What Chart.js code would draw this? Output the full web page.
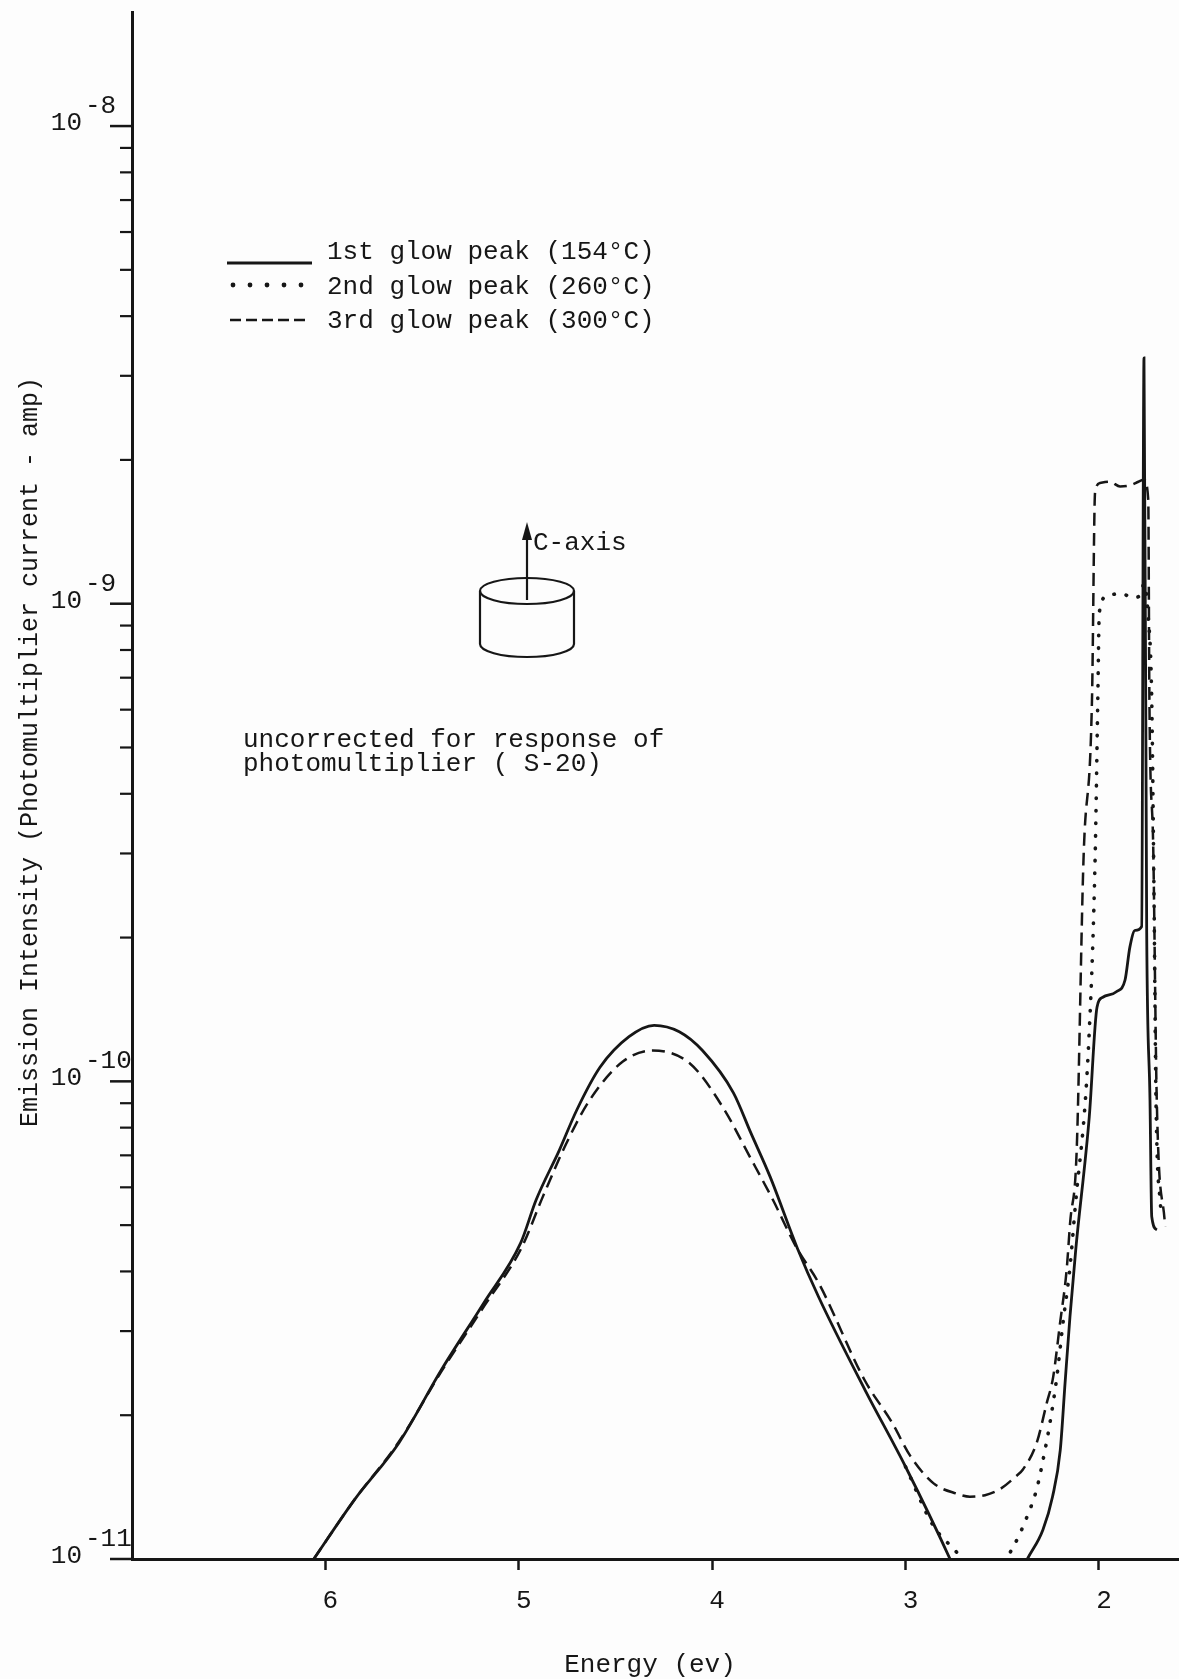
<!DOCTYPE html>
<html lang="en">
<head>
    <meta charset="UTF-8">
    <title>Emission spectra of the glow peaks</title>
    <script src="https://cdn.jsdelivr.net/npm/chart.js"></script>
    <style>
        html, body { margin: 0; padding: 0; background: #fdfdfd; }
        #wrap { width: 1179px; height: 1679px; }
    </style>
</head>
<body>
    <div id="wrap"><canvas id="spectrum" width="1179" height="1679"></canvas></div>

    <script>
        // values: energy in ev, photomultiplier current in amp
        const peak1Energy = [6.06, 5.85, 5.62, 5.40, 5.18, 4.99, 4.91, 4.79, 4.70, 4.58, 4.43, 4.30, 4.17, 4.05, 3.89,
            3.80, 3.70, 3.56, 3.45, 3.21, 3.00, 2.77, 2.70, 2.57, 2.45, 2.37, 2.29, 2.24, 2.20, 2.175,
            2.15, 2.12, 2.05, 2.01, 1.98, 1.91, 1.865, 1.84, 1.813, 1.779, 1.767, 1.753, 1.736, 1.727, 1.70];
        const peak1Current = [1.0e-11, 1.33e-11, 1.75e-11, 2.49e-11, 3.44e-11, 4.59e-11, 5.65e-11, 7.18e-11, 8.71e-11, 1.07e-10,
            1.24e-10, 1.31e-10, 1.27e-10, 1.16e-10, 9.46e-11, 7.80e-11, 6.31e-11, 4.48e-11, 3.54e-11, 2.26e-11,
            1.56e-11, 1.0e-11, 8.6e-12, 7.5e-12, 8.6e-12, 1.0e-11, 1.15e-11, 1.35e-11, 1.69e-11, 2.34e-11,
            3.21e-11, 4.44e-11, 8.43e-11, 1.43e-10, 1.50e-10, 1.54e-10, 1.63e-10, 1.91e-10, 2.07e-10, 2.11e-10,
            3.27e-9, 2.05e-10, 9.14e-11, 5.21e-11, 4.89e-11];

        const peak2Energy = [3.00, 2.86, 2.71, 2.65, 2.59, 2.53, 2.477, 2.418, 2.374, 2.322,
            2.279, 2.253, 2.218, 2.186, 2.150, 2.124, 2.055, 2.020, 2.006, 1.998,
            1.955, 1.887, 1.822, 1.787, 1.767, 1.745, 1.727, 1.715, 1.705, 1.679];
        const peak2Current = [1.56e-11, 1.18e-11, 1.0e-11, 9.0e-12, 8.5e-12, 9.0e-12, 1.0e-11, 1.11e-11, 1.22e-11, 1.40e-11,
            1.69e-11, 1.93e-11, 2.40e-11, 3.12e-11, 4.08e-11, 5.38e-11, 1.16e-10, 2.90e-10, 6.28e-10, 9.6e-10,
            1.04e-9, 1.05e-9, 1.03e-9, 1.04e-9, 1.1e-9, 9.4e-10, 6.28e-10, 2.40e-10, 9.14e-11, 5.25e-11];

        const peak3Energy = [6.06, 5.85, 5.62, 5.40, 5.18, 4.986, 4.876, 4.753, 4.633, 4.462,
            4.307, 4.115, 3.945, 3.805, 3.686, 3.563, 3.449, 3.212, 3.070, 2.974,
            2.855, 2.736, 2.667, 2.589, 2.512, 2.429, 2.393, 2.322, 2.270, 2.237,
            2.201, 2.167, 2.149, 2.115, 2.080, 2.036, 2.020, 1.994, 1.943, 1.891,
            1.839, 1.796, 1.767, 1.745, 1.739, 1.719, 1.701, 1.658];
        const peak3Current = [1.0e-11, 1.33e-11, 1.76e-11, 2.47e-11, 3.38e-11, 4.48e-11, 5.73e-11, 7.43e-11, 9.14e-11, 1.10e-10,
            1.16e-10, 1.09e-10, 8.83e-11, 6.95e-11, 5.65e-11, 4.48e-11, 3.78e-11, 2.37e-11, 1.93e-11, 1.64e-11,
            1.44e-11, 1.37e-11, 1.35e-11, 1.36e-11, 1.40e-11, 1.49e-11, 1.54e-11, 1.75e-11, 2.12e-11, 2.40e-11,
            3.12e-11, 4.03e-11, 5.06e-11, 7.18e-11, 2.90e-10, 6.28e-10, 1.71e-9, 1.79e-9, 1.80e-9, 1.76e-9,
            1.77e-9, 1.80e-9, 1.82e-9, 1.65e-9, 6.28e-10, 3.05e-10, 9.14e-11, 4.97e-11];

        const seriesLabels = ['1st glow peak (154°C)', '2nd glow peak (260°C)', '3rd glow peak (300°C)'];
        const xTickValues = [6, 5, 4, 3, 2];
        const yDecades = [-11, -10, -9, -8];
        const yMinorSteps = [2, 3, 4, 5, 6, 7, 8, 9];
        const noteLines = ['uncorrected for response of', 'photomultiplier ( S-20)'];

        const FONT = '"Liberation Mono", "DejaVu Sans Mono", monospace';
        const INK = '#161616';

        function toPoints(xs, ys) {
            return xs.map((e, i) => ({ x: e, y: ys[i] }));
        }

        function stroke(c, x1, y1, x2, y2, w) {
            c.lineWidth = w;
            c.beginPath();
            c.moveTo(x1, y1);
            c.lineTo(x2, y2);
            c.stroke();
        }

        // axis labels, legend and the sketch of the crystal
        const paperPlugin = {
            id: 'paper',
            beforeDraw(chart) {
                const c = chart.ctx;
                c.save();
                c.fillStyle = '#fdfdfd';
                c.fillRect(0, 0, chart.width, chart.height);
                c.restore();
            },
            afterDraw(chart) {
                const c = chart.ctx;
                const xs = chart.scales.x, ys = chart.scales.y;
                const left = chart.chartArea.left;
                c.save();
                c.strokeStyle = INK;
                c.fillStyle = INK;
                c.textBaseline = 'alphabetic';

                // log ticks on the y axis
                yDecades.forEach(e => {
                    const py = ys.getPixelForValue(Math.pow(10, e));
                    stroke(c, left - 22, py, left, py, 2.5);
                    c.font = '26px ' + FONT;
                    c.textAlign = 'right';
                    c.fillText('10', left - 50, py + 4);
                    c.textAlign = 'left';
                    c.fillText(String(e), left - 47, py - 13);
                    yMinorSteps.forEach(m => {
                        const v = m * Math.pow(10, e);
                        if (v > ys.max) return;
                        const pm = ys.getPixelForValue(v);
                        stroke(c, left - 12, pm, left, pm, 2.2);
                    });
                });

                // energy tick labels
                c.font = '26px ' + FONT;
                c.textAlign = 'center';
                xTickValues.forEach(v => {
                    c.fillText(String(v), xs.getPixelForValue(v) + 5, xs.top + 49);
                });
                c.fillText('Energy (ev)', 650, xs.top + 113);

                // y title
                c.save();
                c.translate(30, 752);
                c.rotate(-Math.PI / 2);
                c.font = '25px ' + FONT;
                c.textBaseline = 'middle';
                c.fillText('Emission Intensity (Photomultiplier current - amp)', 0, 0);
                c.restore();

                // legend
                c.font = '26px ' + FONT;
                c.textAlign = 'left';
                const rows = [259, 294, 328];
                seriesLabels.forEach((t, i) => c.fillText(t, 327, rows[i]));
                c.lineCap = 'butt';
                stroke(c, 227, rows[0] + 4, 312, rows[0] + 4, 2.8);
                for (let k = 0; k < 5; k++) {
                    c.beginPath();
                    c.arc(233 + k * 17, rows[1] - 9, 2.4, 0, Math.PI * 2);
                    c.fill();
                }
                c.setLineDash([11, 5]);
                stroke(c, 230, rows[2] - 8, 305, rows[2] - 8, 2.6);
                c.setLineDash([]);

                // crystal with its c-axis
                const cx = 527;
                c.lineWidth = 2.2;
                c.beginPath();
                c.ellipse(cx, 591, 47, 13, 0, 0, Math.PI * 2);
                c.stroke();
                c.beginPath();
                c.moveTo(cx - 47, 591);
                c.lineTo(cx - 47, 644);
                c.ellipse(cx, 644, 47, 13, 0, Math.PI, 0, true);
                c.lineTo(cx + 47, 591);
                c.stroke();
                stroke(c, cx, 600, cx, 536, 2.2);
                c.beginPath();
                c.moveTo(cx, 522);
                c.lineTo(cx - 5, 540);
                c.lineTo(cx + 5, 540);
                c.closePath();
                c.fill();
                c.font = '26px ' + FONT;
                c.fillText('C-axis', cx + 6, 550);

                // note about the detector
                c.fillText(noteLines[0], 243, 747);
                c.fillText(noteLines[1], 243, 771);
                c.restore();
            }
        };

        const ctx = document.getElementById('spectrum').getContext('2d');
        new Chart(ctx, {
            type: 'line',
            data: {
                datasets: [
                    {
                        label: seriesLabels[0],
                        data: toPoints(peak1Energy, peak1Current),
                        borderColor: INK,
                        borderWidth: 2.8
                    },
                    {
                        label: seriesLabels[1],
                        data: toPoints(peak2Energy, peak2Current),
                        borderColor: INK,
                        borderWidth: 3.6,
                        borderDash: [0.5, 12],
                        borderCapStyle: 'round'
                    },
                    {
                        label: seriesLabels[2],
                        data: toPoints(peak3Energy, peak3Current),
                        borderColor: INK,
                        borderWidth: 2.5,
                        borderDash: [13, 7]
                    }
                ]
            },
            options: {
                responsive: false,
                animation: false,
                devicePixelRatio: 1,
                layout: { padding: { top: 12, right: 0, bottom: 0, left: 0 } },
                elements: {
                    point: { radius: 0 },
                    line: { cubicInterpolationMode: 'monotone', fill: false }
                },
                plugins: {
                    legend: { display: false },
                    tooltip: { enabled: false }
                },
                scales: {
                    x: {
                        type: 'linear',
                        reverse: true,
                        bounds: 'data',
                        min: 1.586,
                        max: 7.0,
                        afterBuildTicks: axis => { axis.ticks = xTickValues.map(v => ({ value: v })); },
                        afterFit: axis => { axis.height = 120; },
                        ticks: { display: false },
                        grid: {
                            drawOnChartArea: false,
                            drawTicks: true,
                            tickLength: 11,
                            tickWidth: 2.5,
                            tickColor: INK
                        },
                        border: { display: true, color: INK, width: 3 }
                    },
                    y: {
                        type: 'logarithmic',
                        min: 1e-11,
                        max: 1.733e-8,
                        afterFit: axis => { axis.width = 132; },
                        ticks: { display: false },
                        grid: { display: false },
                        border: { display: true, color: INK, width: 3 }
                    }
                }
            },
            plugins: [paperPlugin]
        });
    </script>
</body>
</html>
